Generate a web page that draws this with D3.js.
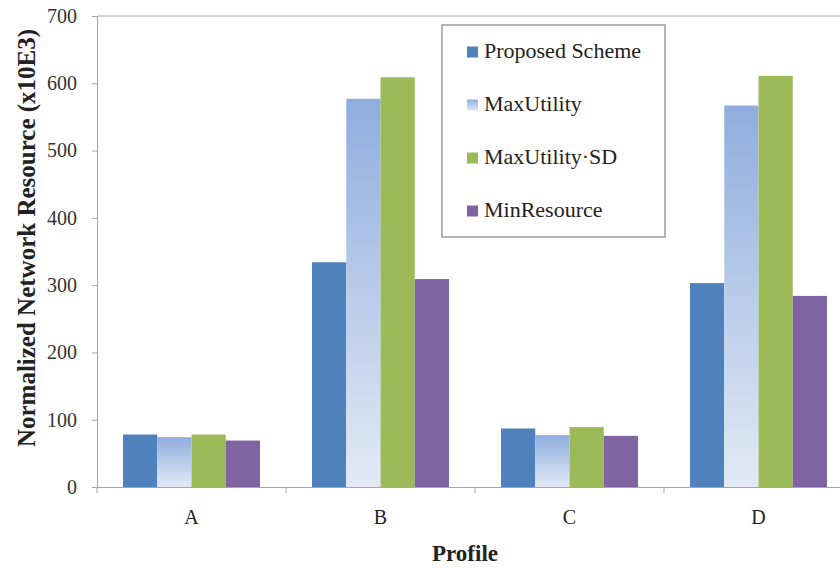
<!DOCTYPE html>
<html>
<head>
<meta charset="utf-8">
<script src="https://cdn.jsdelivr.net/npm/d3@7"></script>
<style>
  html, body { margin: 0; padding: 0; background: #fff; overflow: hidden; }
  svg { display: block; }
</style>
</head>
<body>
<svg id="chart" width="840" height="568"></svg>
<script>
// Profiles along the x axis
const profiles = ["A", "B", "C", "D"];
// Series names (legend order)
const seriesNames = ["Proposed Scheme", "MaxUtility", "MaxUtility\u00B7SD", "MinResource"];
// Normalized network resource (x10E3) per profile, one array per series
const proposedScheme = [78, 334, 87, 303];
const maxUtility     = [74, 577, 77, 567];
const maxUtilitySD   = [78, 609, 89, 611];
const minResource    = [69, 309, 76, 284];
// Y axis ticks
const yTicks = [0, 100, 200, 300, 400, 500, 600, 700];

const seriesValues = [proposedScheme, maxUtility, maxUtilitySD, minResource];
const fills = ["#4f81bd", "url(#gradMaxUtility)", "#9bbb59", "#8064a2"];

const svg = d3.select("#chart");
const defs = svg.append("defs");
const grad = defs.append("linearGradient")
  .attr("id", "gradMaxUtility")
  .attr("x1", 0).attr("y1", 0).attr("x2", 0).attr("y2", 1);
grad.append("stop").attr("offset", "0%").attr("stop-color", "#8fadde");
grad.append("stop").attr("offset", "100%").attr("stop-color", "#e2eaf6");

const plot = { left: 97, top: 16, right: 853, bottom: 487 };

const x = d3.scaleBand()
  .domain(profiles)
  .range([plot.left, plot.right])
  .paddingInner(0)
  .paddingOuter(0);

// Four bars per profile, gap of ~1.5 bar widths between groups
const inner = d3.scaleBand()
  .domain(d3.range(seriesNames.length))
  .range([0, x.bandwidth()])
  .paddingOuter(0.76)
  .paddingInner(0);

const y = d3.scaleLinear()
  .domain([0, 700])
  .range([plot.bottom, plot.top]);

const serif = "'Liberation Serif', 'Times New Roman', serif";
const axisColor = "#a6a6a6";

// Top border of the plot area at the 700 level
svg.append("line")
  .attr("x1", plot.left).attr("x2", 840)
  .attr("y1", y(700)).attr("y2", y(700))
  .attr("stroke", axisColor);

// Bars
profiles.forEach((p, i) => {
  const g = svg.append("g").attr("transform", `translate(${x(p)},0)`);
  g.selectAll("rect")
    .data(seriesValues.map((s, k) => ({ k, v: s[i] })))
    .join("rect")
    .attr("x", d => inner(d.k))
    .attr("width", inner.bandwidth())
    .attr("y", d => y(d.v))
    .attr("height", d => y(0) - y(d.v))
    .attr("fill", d => fills[d.k]);
});

// Y axis
const yAxis = svg.append("g")
  .attr("transform", `translate(${plot.left},0)`)
  .call(d3.axisLeft(y).tickValues(yTicks).tickSize(5).tickPadding(15).tickFormat(d3.format("d")));
yAxis.select(".domain").attr("stroke", axisColor);
yAxis.selectAll(".tick line").attr("stroke", axisColor);
yAxis.selectAll(".tick text")
  .attr("font-family", serif)
  .attr("font-size", 20)
  .attr("fill", "#333");

// X axis
const xAxis = svg.append("g")
  .attr("transform", `translate(0,${plot.bottom})`)
  .call(d3.axisBottom(x).tickSize(0).tickPadding(23));
xAxis.select(".domain").attr("stroke", axisColor);
xAxis.selectAll(".tick text")
  .attr("font-family", serif)
  .attr("font-size", 20)
  .attr("fill", "#222");
// Category separator ticks at band boundaries
const bounds = profiles.map(p => x(p)).concat([x(profiles[profiles.length - 1]) + x.bandwidth()]);
xAxis.selectAll(".sep")
  .data(bounds)
  .join("line")
  .attr("class", "sep")
  .attr("x1", d => d).attr("x2", d => d)
  .attr("y1", 0).attr("y2", 6)
  .attr("stroke", axisColor);

// Axis titles
svg.append("text")
  .attr("transform", `translate(29,238) rotate(-90)`)
  .attr("text-anchor", "middle")
  .attr("dominant-baseline", "middle")
  .attr("font-family", serif)
  .attr("font-weight", "bold")
  .attr("font-size", 25)
  .attr("fill", "#222")
  .text("Normalized Network Resource (x10E3)");

svg.append("text")
  .attr("x", 465)
  .attr("y", 561)
  .attr("text-anchor", "middle")
  .attr("font-family", serif)
  .attr("font-weight", "bold")
  .attr("font-size", 23)
  .attr("fill", "#222")
  .text("Profile");

// Legend
const legend = svg.append("g").attr("transform", "translate(442,25)");
legend.append("rect")
  .attr("x", 0).attr("y", 0)
  .attr("width", 223).attr("height", 212)
  .attr("fill", "#fff")
  .attr("stroke", "#8c8c8c")
  .attr("stroke-width", 1.3);
const item = legend.selectAll("g.item")
  .data(seriesNames)
  .join("g")
  .attr("class", "item")
  .attr("transform", (d, i) => `translate(0,${27 + i * 53})`);
item.append("rect")
  .attr("x", 25).attr("y", -5.5)
  .attr("width", 11).attr("height", 11)
  .attr("fill", (d, i) => fills[i]);
item.append("text")
  .attr("x", 42).attr("y", 1)
  .attr("dominant-baseline", "middle")
  .attr("font-family", serif)
  .attr("font-size", 22)
  .attr("fill", "#222")
  .text(d => d);
</script>
</body>
</html>
